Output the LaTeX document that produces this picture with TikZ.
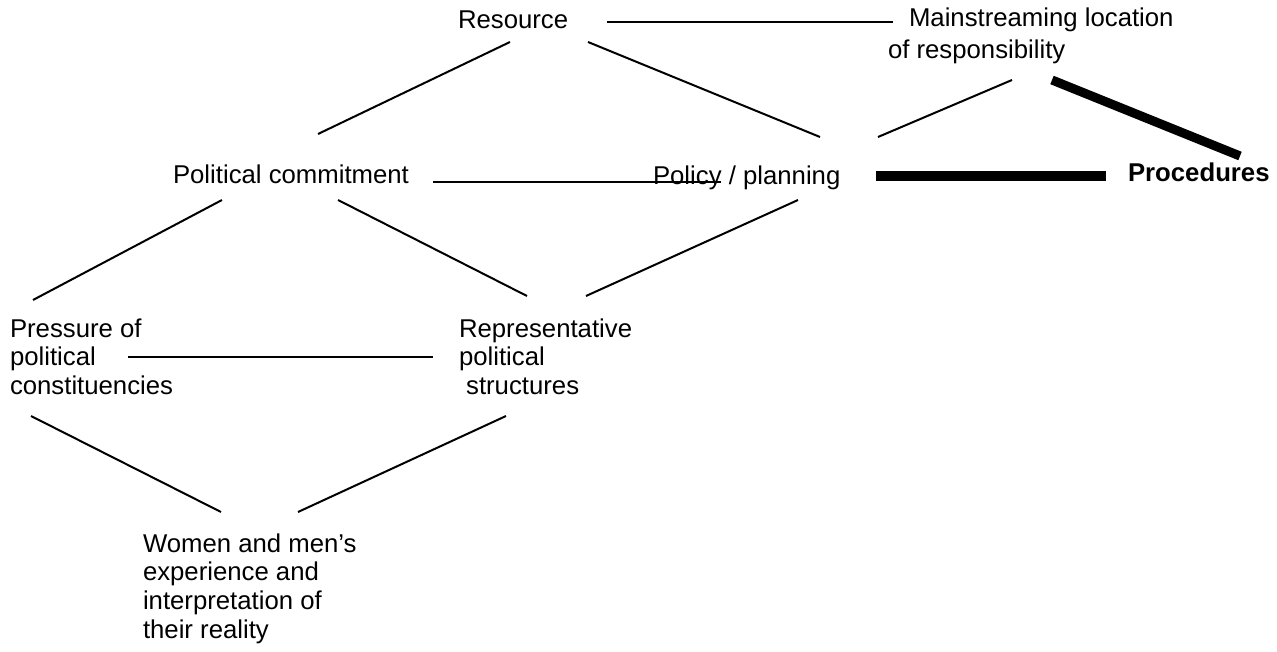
\documentclass[tikz,border=0pt]{standalone}
\usepackage{fontspec}
\setmainfont{Liberation Sans}
\begin{document}
\begin{tikzpicture}[x=0.75pt,y=-0.75pt,
  lbl/.style={anchor=base west,inner sep=0pt,outer sep=0pt,font=\fontsize{19.3}{21.5}\selectfont},
  thin/.style={line width=1.5pt},
  thick/.style={line width=6.8pt}]
\useasboundingbox (0,0) rectangle (1277,652);
% texts
\node[lbl] (res) at (458,29) {Resource};
\node[lbl] (main) at (909,27) {Mainstreaming location};
\node[lbl] (main2) at (888,59) {of responsibility};
\node[lbl] (pc) at (173,184) {Political commitment};
\node[lbl] (pp) at (653,185) {Policy / planning};
\node[lbl,font=\fontsize{19.3}{21.5}\selectfont\bfseries] (proc) at (1128,182) {Procedures};
\node[lbl] (press) at (10,337) {\vtop{\hbox{Pressure of}\hbox{political}\hbox{constituencies}}};
\node[lbl] (rep) at (459,337) {\vtop{\hbox{Representative}\hbox{political}\hbox{\ structures}}};
\node[lbl] (wom) at (143,552) {\vtop{\hbox{Women and men’s}\hbox{experience and}\hbox{interpretation of}\hbox{their reality}}};
% connector ends
\coordinate (a1) at (607,22);  \coordinate (a2) at (893,22);
\coordinate (b1) at (510,42);  \coordinate (b2) at (318,134);
\coordinate (c1) at (588,42);  \coordinate (c2) at (820,137);
\coordinate (d1) at (1012,80); \coordinate (d2) at (878,137);
\coordinate (e1) at (1052,80); \coordinate (e2) at (1240,156);
\coordinate (f1) at (876,176); \coordinate (f2) at (1106,176);
\coordinate (g1) at (433,182); \coordinate (g2) at (721,182);
\coordinate (h1) at (222,200); \coordinate (h2) at (33,300);
\coordinate (i1) at (338,200); \coordinate (i2) at (527,296);
\coordinate (j1) at (798,200); \coordinate (j2) at (586,296);
\coordinate (k1) at (128,357); \coordinate (k2) at (433,357);
\coordinate (l1) at (31,416);  \coordinate (l2) at (221,512);
\coordinate (m1) at (506,416); \coordinate (m2) at (298,512);
% connectors
\draw[thin] (a1) -- (a2);
\draw[thin] (b1) -- (b2);
\draw[thin] (c1) -- (c2);
\draw[thin] (d1) -- (d2);
\draw[thick] (e1) -- (e2);
\draw[thick] (f1) -- (f2);
\draw[thin] (g1) -- (g2);
\draw[thin] (h1) -- (h2);
\draw[thin] (i1) -- (i2);
\draw[thin] (j1) -- (j2);
\draw[thin] (k1) -- (k2);
\draw[thin] (l1) -- (l2);
\draw[thin] (m1) -- (m2);
\end{tikzpicture}
\end{document}
